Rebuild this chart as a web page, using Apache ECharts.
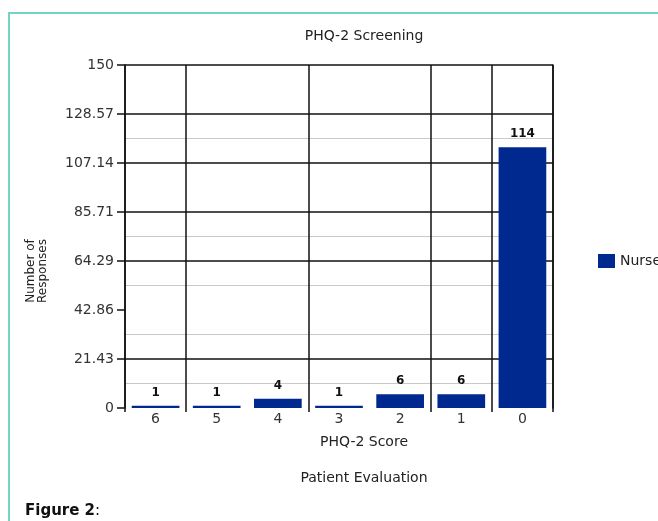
<!DOCTYPE html>
<html>
<head>
<meta charset="utf-8">
<script src="https://cdn.jsdelivr.net/npm/echarts@6/dist/echarts.min.js"></script>
<style>
html,body{margin:0;padding:0;background:#fff;}
#c{width:658px;height:521px;}
</style>
</head>
<body>
<div id="c"></div>
<script>
const categories = ['6', '5', '4', '3', '2', '1', '0'];
const nurseValues = [1, 1, 4, 1, 6, 6, 114];
const yTickLabels = ['0', '21.43', '42.86', '64.29', '85.71', '107.14', '128.57', '150'];
const seriesName = 'Nurse';
const chartTitle = 'PHQ-2 Screening';
const xAxisTitle = 'PHQ-2 Score';
const subTitle = 'Patient Evaluation';
const yAxisTitle = 'Number of\nResponses';
const captionBold = 'Figure 2';
const captionRest = ':';

const FONT = '"DejaVu Sans", sans-serif';
const BLACK = '#111';
const GRAY = '#c9c9c9';
const T = 'rgba(0,0,0,0)';
const xLineAt = (i) => [0, 1, 3, 5, 6].indexOf(i) >= 0;

const ctx = document.createElement('canvas').getContext('2d');
ctx.font = 'bold 15px ' + FONT;
const boldW = ctx.measureText(captionBold).width;

const chart = echarts.init(document.getElementById('c'), null, {renderer: 'canvas'});
chart.setOption({
  animation: false,
  backgroundColor: '#fff',
  textStyle: {fontFamily: FONT},
  title: [
    {text: chartTitle, left: 359, top: 24, textAlign: 'center',
     textStyle: {fontFamily: FONT, fontSize: 14, fontWeight: 'normal', color: '#222'}},
    {text: xAxisTitle, left: 359, top: 430, textAlign: 'center',
     textStyle: {fontFamily: FONT, fontSize: 14, fontWeight: 'normal', color: '#222'}},
    {text: subTitle, left: 359, top: 466, textAlign: 'center',
     textStyle: {fontFamily: FONT, fontSize: 14, fontWeight: 'normal', color: '#222'}}
  ],
  legend: {
    left: 593, top: 249, orient: 'vertical',
    itemWidth: 17, itemHeight: 14, itemGap: 5,
    icon: 'rect',
    textStyle: {fontFamily: FONT, fontSize: 14, color: '#222'},
    data: [seriesName]
  },
  grid: {left: 125, right: 105, top: 65, bottom: 113, containLabel: false},
  xAxis: {
    type: 'category',
    data: categories,
    boundaryGap: true,
    axisLine: {show: false},
    axisTick: {show: true, length: 4, interval: xLineAt, lineStyle: {color: BLACK, width: 1.5}},
    axisLabel: {fontFamily: FONT, fontSize: 14, color: '#333', margin: 4},
    splitLine: {show: true, interval: xLineAt, lineStyle: {color: BLACK, width: 1.5}}
  },
  yAxis: [
    {
      type: 'value', min: 0, max: 150, interval: 150 / 7,
      axisLine: {show: true, lineStyle: {color: BLACK, width: 1.5}},
      axisTick: {show: true, length: 8, lineStyle: {color: BLACK, width: 1.5}},
      axisLabel: {fontFamily: FONT, fontSize: 14, color: '#333', margin: 11,
        formatter: (v, i) => yTickLabels[i] !== undefined ? yTickLabels[i] : ''},
      splitLine: {show: true, lineStyle: {width: 1.5,
        color: [T, BLACK, T, BLACK, BLACK, BLACK, BLACK, BLACK]}}
    },
    {
      type: 'value', min: 0, max: 14, interval: 1, position: 'right',
      axisLine: {show: true, lineStyle: {color: BLACK, width: 1.5}},
      axisTick: {show: false},
      axisLabel: {show: false},
      splitLine: {show: true, lineStyle: {width: 1,
        color: [T, GRAY, T, GRAY, T, GRAY, T, GRAY, T, T, T, GRAY, T, T, T]}}
    }
  ],
  graphic: [
    {type: 'rect', shape: {x: 9, y: 13, width: 700, height: 600},
     style: {fill: null, stroke: '#72d4c6', lineWidth: 2}, silent: true},
    {type: 'text', x: 37, y: 271, rotation: Math.PI / 2,
     style: {text: yAxisTitle, font: '12px ' + FONT, fill: '#222',
       textAlign: 'center', textVerticalAlign: 'middle', lineHeight: 12}},
    {type: 'text', x: 25, y: 504,
     style: {text: captionBold, font: 'bold 15px ' + FONT, fill: '#111', textAlign: 'left'}},
    {type: 'text', x: 25 + boldW, y: 504,
     style: {text: captionRest, font: '15px ' + FONT, fill: '#111', textAlign: 'left'}}
  ],
  series: [{
    name: seriesName,
    type: 'bar',
    data: nurseValues,
    barWidth: '78%',
    itemStyle: {color: '#00298f'},
    label: {show: true, position: 'top', distance: 7,
      fontFamily: FONT, fontSize: 12, fontWeight: 'bold', color: '#111'}
  }]
});
</script>
</body>
</html>
